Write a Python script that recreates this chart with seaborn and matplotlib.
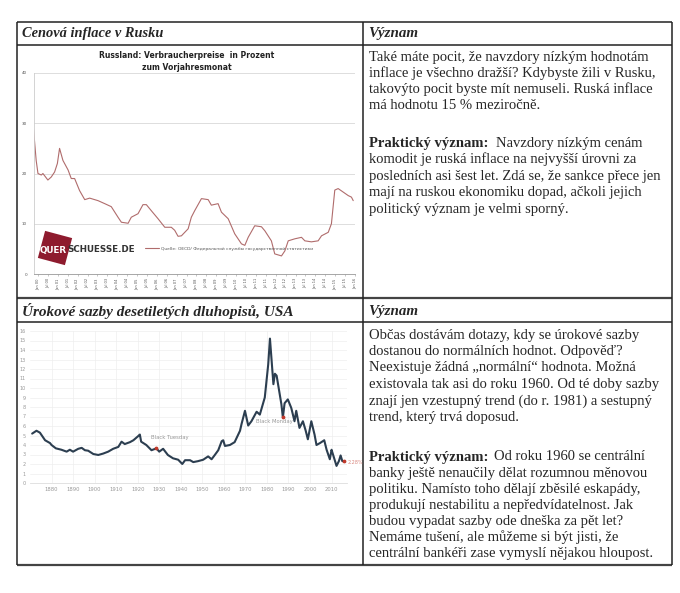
import numpy as np
import matplotlib
matplotlib.use("Agg")
import matplotlib.pyplot as plt
from matplotlib.patches import Rectangle
import matplotlib.transforms as mtransforms
import seaborn as sns

# Russland: Verbraucherpreise in Prozent zum Vorjahresmonat
ru_year = [1999.75, 1999.91, 2000.0, 2000.17, 2000.25, 2000.5, 2000.67, 2000.84, 2000.98,
           2001.09, 2001.26, 2001.52, 2001.68, 2001.85, 2002.1, 2002.36, 2002.61, 2002.86,
           2003.03, 2003.37, 2003.7, 2004.04, 2004.21, 2004.55, 2004.71, 2005.05, 2005.3,
           2005.47, 2005.72, 2006.06, 2006.4, 2006.73, 2006.9, 2007.07, 2007.24, 2007.58,
           2007.74, 2007.91, 2008.25, 2008.59, 2008.75, 2009.09, 2009.26, 2009.6, 2009.93,
           2010.27, 2010.44, 2010.61, 2010.94, 2011.28, 2011.45, 2011.78, 2011.95, 2012.29,
           2012.46, 2012.63, 2012.96, 2013.3, 2013.47, 2013.8, 2014.14, 2014.31, 2014.65,
           2014.81, 2014.98, 2015.15, 2015.66, 2015.82, 2015.91]
ru_cpi = [30, 22.6, 20, 19.7, 20, 18.7, 19.3, 20.3, 22,
          25, 22.6, 20.7, 19, 19, 16.6, 14.8, 15.1, 14.8,
          14.6, 14, 13.4, 11.3, 10.3, 10.1, 11.3, 12, 13.8,
          13.8, 12.6, 11, 9.3, 9.3, 8.7, 7.5, 7.6, 9,
          11.3, 12.6, 15, 14.8, 13.7, 14, 12.3, 11, 8,
          6, 5.7, 7.3, 9.6, 9.4, 8.6, 6.6, 4, 3.6,
          4.6, 6.6, 7, 7.3, 6.6, 6.4, 6.6, 7.6, 8.3,
          10, 16.7, 17, 15.6, 15.3, 14.6]
ru_yticks = [0, 10, 20, 30, 40]
ru_xticks = list(np.arange(2000, 2016.01, 0.5))
ru_xlabels = [("Jan " if t % 1 == 0 else "Jul ") + "%02d" % (int(t) % 100) for t in ru_xticks]

# US 10-year treasury yield
us_year = [1871, 1873, 1874.6, 1877, 1879.3, 1880, 1882, 1884.6, 1887, 1888.5, 1890, 1892.4,
           1894, 1895.5, 1897, 1899.4, 1901.7, 1904, 1906.3, 1908.6, 1911, 1912.5, 1914,
           1916.4, 1918, 1920.3, 1921, 1921.6, 1924, 1926.4, 1928.7, 1930, 1931.8, 1934,
           1936.4, 1938.8, 1940.7, 1942, 1944.3, 1945.8, 1948, 1950.4, 1952.7, 1954.3,
           1955.8, 1957.4, 1959, 1959.7, 1960.5, 1962.8, 1965, 1967.5, 1968.2, 1969.8,
           1971.3, 1972.8, 1975.2, 1976.7, 1979, 1980.6, 1981.4, 1983, 1983.7, 1984.5,
           1986.7, 1987.4, 1988.2, 1989.7, 1991.3, 1992.8, 1993.6, 1995.1, 1996.7, 1998,
           1999, 2000.6, 2002.1, 2003, 2004.6, 2006.6, 2007.7, 2009.2, 2010, 2010.4,
           2012.3, 2013.4, 2014.2, 2015, 2015.9]
us_rate = [5.2, 5.5, 5.3, 4.5, 4.2, 4.0, 3.65, 3.5, 3.3, 3.5, 3.3, 3.6,
           3.7, 3.45, 3.4, 3.05, 2.95, 3.1, 3.3, 3.6, 3.8, 4.35, 4.1,
           4.3, 4.5, 4.95, 5.1, 4.35, 4.0, 3.45, 3.65, 3.3, 3.6, 2.95,
           2.6, 2.45, 2.0, 2.4, 2.4, 2.2, 2.3, 2.45, 2.8, 2.5,
           2.95, 3.45, 4.4, 4.5, 3.9, 4.0, 4.3, 5.5, 6.2, 7.6,
           6.05, 6.5, 7.5, 7.2, 9.0, 12.5, 15.2, 10.4, 11.5, 11.3,
           8.3, 6.9, 8.4, 8.8, 7.9, 6.5, 7.6, 5.8, 6.5, 5.5,
           4.6, 6.5, 5.1, 4.0, 4.2, 4.5, 3.5, 2.5, 3.5, 3.2,
           1.8, 2.3, 2.9, 2.3, 2.28]
us_event_year = [1928.7, 1987.4, 2015.9]
us_event_rate = [3.65, 6.9, 2.28]
us_event_text = ["Black Tuesday", "Black Monday", "2.28%"]
us_xticks = list(range(1880, 2011, 10))
us_yticks = list(range(0, 17))

cell_text_1 = ["Také máte pocit, že navzdory nízkým hodnotám",
               "inflace je všechno dražší? Kdybyste žili v Rusku,",
               "takovýto pocit byste mít nemuseli. Ruská inflace",
               "má hodnotu 15 % meziročně."]
cell_text_2 = ["komodit je ruská inflace na nejvyšší úrovni za",
               "posledních asi šest let. Zdá se, že sankce přece jen",
               "mají na ruskou ekonomiku dopad, ačkoli jejich",
               "politický význam je velmi sporný."]
cell_text_3 = ["Občas dostávám dotazy, kdy se úrokové sazby",
               "dostanou do normálních hodnot. Odpověď?",
               "Neexistuje žádná „normální“ hodnota. Možná",
               "existovala tak asi do roku 1960. Od té doby sazby",
               "znají jen vzestupný trend (do r. 1981) a sestupný",
               "trend, který trvá doposud."]
cell_text_4 = ["banky ještě nenaučily dělat rozumnou měnovou",
               "politiku. Namísto toho dělají zběsilé eskapády,",
               "produkují nestabilitu a nepředvídatelnost. Jak",
               "budou vypadat sazby ode dneška za pět let?",
               "Nemáme tušení, ale můžeme si být jisti, že",
               "centrální bankéři zase vymyslí nějakou hloupost."]

sns.set_theme(style="white")
plt.rcParams['font.family'] = ['DejaVu Sans']

W, H = 680, 593
fig = plt.figure(figsize=(6.8, 5.93), dpi=100)

# background: table in pixel coordinates
bg = fig.add_axes([0, 0, 1, 1], zorder=0)
bg.set_xlim(0, W)
bg.set_ylim(H, 0)
bg.axis('off')

L, R, M = 17, 672, 363
bg.hlines([22, 45, 322], L, R, color='#222222', lw=1.1)
bg.hlines([298, 565], L, R, color='#444444', lw=1.6)
bg.vlines([L, M, R], 22, 565, color='#222222', lw=1.1)

serif = 'Liberation Serif'
bg.text(22, 34, "Cenová inflace v Rusku", family=serif, style='italic', weight='bold',
        fontsize=10.4, va='center')
bg.text(368, 34, "Význam", family=serif, style='italic', weight='bold', fontsize=10.8, va='center')
bg.text(22, 311, "Úrokové sazby desetiletých dluhopisů, USA", family=serif, style='italic',
        weight='bold', fontsize=11, va='center')
bg.text(368, 311, "Význam", family=serif, style='italic', weight='bold', fontsize=10.8, va='center')

lh = 16.3
fs = 10.5
for i, s in enumerate(cell_text_1):
    bg.text(369, 57 + i * lh, s, family=serif, fontsize=fs, va='center')
bg.text(369, 143, "Praktický význam:", family=serif, weight='bold', fontsize=fs, va='center')
bg.text(496, 143, "Navzdory nízkým cenám", family=serif, fontsize=fs, va='center')
for i, s in enumerate(cell_text_2):
    bg.text(369, 143 + (i + 1) * 16.6, s, family=serif, fontsize=fs, va='center')
for i, s in enumerate(cell_text_3):
    bg.text(369, 335 + i * 16.5, s, family=serif, fontsize=fs, va='center')
bg.text(369, 457, "Praktický význam:", family=serif, weight='bold', fontsize=fs, va='center')
bg.text(494, 457, "Od roku 1960 se centrální", family=serif, fontsize=fs, va='center')
for i, s in enumerate(cell_text_4):
    bg.text(369, 457 + (i + 1) * 16.0, s, family=serif, fontsize=fs, va='center')

# Russian CPI chart title
bg.text(187, 55, "Russland: Verbraucherpreise  in Prozent", fontsize=5.5, weight='bold',
        ha='center', va='center', color='#222222')
bg.text(187, 67.5, "zum Vorjahresmonat", fontsize=5.5, weight='bold',
        ha='center', va='center', color='#222222')

# Russian CPI chart
x0, x1, y0, y1 = 34, 355, 73, 274
ax1 = fig.add_axes([x0 / W, 1 - y1 / H, (x1 - x0) / W, (y1 - y0) / H], zorder=2)
ax1.patch.set_alpha(0)
sns.lineplot(x=ru_year, y=ru_cpi, ax=ax1, color='#b06c6c', linewidth=0.8,
             label="Quelle: OECD/ Федеральной службы государственной статистики")
ax1.set_xlim(1999.8, 2016.0)
ax1.set_ylim(0, 40)
ax1.set_yticks(ru_yticks)
ax1.set_yticklabels([str(v) for v in ru_yticks], fontsize=3, color='#555555')
ax1.set_xticks(ru_xticks)
ax1.set_xticklabels(ru_xlabels, fontsize=2.6, rotation=90, color='#555555')
ax1.tick_params(axis='x', length=1.5, width=0.4, color='#999999', pad=1.5, bottom=True)
ax1.tick_params(axis='y', length=0, pad=5)
ax1.grid(axis='y', color='#d8d8d8', lw=0.6)
for s in ['top', 'right']:
    ax1.spines[s].set_visible(False)
ax1.spines['left'].set_color('#cccccc')
ax1.spines['left'].set_linewidth(0.6)
ax1.spines['bottom'].set_color('#999999')
ax1.spines['bottom'].set_linewidth(0.6)
leg = ax1.legend(loc='center left', bbox_to_anchor=(0.34, 0.125), frameon=False,
                 fontsize=3.2, handlelength=3, borderpad=0, handletextpad=0.5)
for t in leg.get_texts():
    t.set_color('#555555')

# US 10y chart
ux0 = 30
ux1 = ux0 + (2017 - 1870) * 2.154
uy0, uy1 = 331, 483
ax2 = fig.add_axes([ux0 / W, 1 - uy1 / H, (ux1 - ux0) / W, (uy1 - uy0) / H], zorder=2)
ax2.patch.set_alpha(0)
sns.lineplot(x=us_year, y=us_rate, ax=ax2, color='#2c3e50', linewidth=1.5)
ax2.scatter(us_event_year, us_event_rate, s=3, color='#c0392b', zorder=3)
ax2.set_xlim(1870, 2017)
ax2.set_ylim(0, 16)
ax2.set_xticks(us_xticks)
ax2.set_xticklabels([str(v) for v in us_xticks], fontsize=3.8, color='#999999')
ax2.set_yticks(us_yticks)
ax2.set_yticklabels([str(v) for v in us_yticks], fontsize=3.5, color='#999999')
ax2.tick_params(length=0, pad=3)
ax2.grid(color='#eeeeee', lw=0.5)
for s in ['top', 'right', 'left']:
    ax2.spines[s].set_visible(False)
ax2.spines['bottom'].set_color('#dddddd')
ax2.spines['bottom'].set_linewidth(0.6)
ax2.text(1935, 4.8, us_event_text[0], fontsize=3.8, color='#999999', ha='center', va='center')
ax2.text(1983.5, 6.45, us_event_text[1], fontsize=3.8, color='#999999', ha='center', va='center')
ax2.text(2017.5, 2.2, us_event_text[2], fontsize=3.5, color='#d98880', ha='left', va='center',
         clip_on=False)

# querschuesse logo on top
ov = fig.add_axes([0, 0, 1, 1], zorder=5)
ov.set_xlim(0, W)
ov.set_ylim(H, 0)
ov.axis('off')
sq = Rectangle((41, 234), 28, 28, color='#8e1b2e', lw=0)
rot = mtransforms.Affine2D().rotate_deg_around(55, 248, 15) + ov.transData
sq.set_transform(rot)
ov.add_patch(sq)
ov.text(39.5, 250, "QUER", fontsize=6.3, weight='bold', color='white', va='center')
ov.text(67.5, 250, "SCHUESSE.DE", fontsize=6.3, weight='bold', color='#333333', va='center')

fig.savefig("out.png", dpi=100)
